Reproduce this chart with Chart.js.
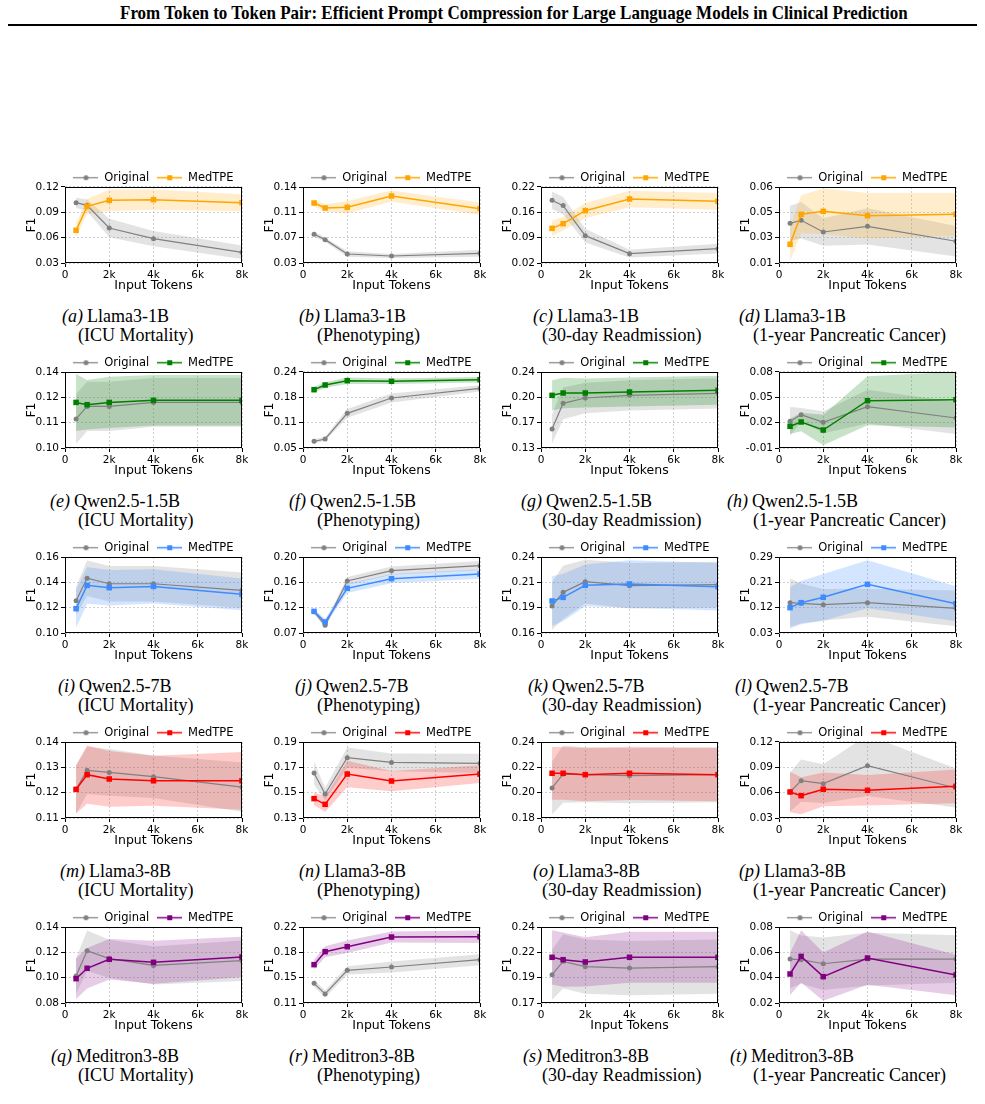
<!DOCTYPE html>
<html>
<head>
<meta charset="utf-8">
<script src="https://cdn.jsdelivr.net/npm/chart.js@4.4.1/dist/chart.umd.min.js"></script>
<style>
  body { margin: 0; background: #fff; width: 985px; height: 1104px; position: relative; overflow: hidden; font-family: "Liberation Serif", serif; }
  #title { position: absolute; top: 3px; left: 0; font-weight: bold; font-size: 19px; line-height: 20px; white-space: nowrap; transform-origin: 0 0; }
  #rule { position: absolute; left: 8px; top: 24px; width: 969px; height: 2px; background: #000; }
  canvas { position: absolute; }
  .cap { position: absolute; font-size: 18px; line-height: 19px; white-space: nowrap; }
  .cap i { padding-right: 4px; }
</style>
</head>
<body>
<div id="title">From Token to Token Pair: Efficient Prompt Compression for Large Language Models in Clinical Prediction</div>
<div id="rule"></div>
<script>
// shared axes / labels
const tokens = [500, 1000, 2000, 4000, 8000];
const xTicks = ['0', '2k', '4k', '6k', '8k'];
const models = ['Llama3-1B', 'Qwen2.5-1.5B', 'Qwen2.5-7B', 'Llama3-8B', 'Meditron3-8B'];
const tasks = ['ICU Mortality', 'Phenotyping', '30-day Readmission', '1-year Pancreatic Cancer'];
const medColors = ['#ffa500', '#008000', '#3d8bff', '#ff0000', '#800080'];
const medBands = ['rgba(255,165,0,0.2)', 'rgba(0,128,0,0.22)', 'rgba(61,139,255,0.22)', 'rgba(255,0,0,0.2)', 'rgba(128,0,128,0.2)'];

// Llama3-1B
const a_yTicks = ['0.03', '0.06', '0.09', '0.12'];
const a_orig = [0.1014, 0.0983, 0.0714, 0.0588, 0.0426], a_origErr = [0.006, 0.007, 0.011, 0.009, 0.008];
const a_med = [0.0687, 0.0971, 0.1042, 0.1050, 0.1014], a_medErr = [0.008, 0.009, 0.0125, 0.012, 0.010];
const b_yTicks = ['0.03', '0.07', '0.11', '0.14'];
const b_orig = [0.0715, 0.0638, 0.0430, 0.0401, 0.0440], b_origErr = [0.004, 0.003, 0.004, 0.003, 0.005];
const b_med = [0.1168, 0.1096, 0.1106, 0.1270, 0.1086], b_medErr = [0.005, 0.005, 0.009, 0.008, 0.009];
const c_yTicks = ['0.02', '0.09', '0.16', '0.22'];
const c_orig = [0.1850, 0.1710, 0.0920, 0.0446, 0.0577], c_origErr = [0.023, 0.023, 0.018, 0.010, 0.013];
const c_med = [0.1112, 0.1235, 0.1577, 0.1884, 0.1823], c_medErr = [0.020, 0.018, 0.020, 0.022, 0.022];
const d_yTicks = ['0.01', '0.03', '0.05', '0.06'];
const d_orig = [0.0361, 0.0381, 0.0304, 0.0341, 0.0243], d_origErr = [0.0116, 0.012, 0.009, 0.012, 0.010];
const d_med = [0.0223, 0.0420, 0.0440, 0.0411, 0.0420], d_medErr = [0.011, 0.0125, 0.015, 0.015, 0.014];
// Qwen2.5-1.5B
const e_yTicks = ['0.10', '0.11', '0.12', '0.14'];
const e_orig = [0.1153, 0.1219, 0.1219, 0.1240, 0.1240], e_origErr = [0.013, 0.013, 0.013, 0.0128, 0.0128];
const e_med = [0.1240, 0.1228, 0.1240, 0.1251, 0.1251], e_medErr = [0.015, 0.013, 0.0135, 0.0133, 0.0133];
const f_yTicks = ['0.05', '0.11', '0.18', '0.24'];
const f_orig = [0.0667, 0.0725, 0.1367, 0.1750, 0.1990], f_origErr = [0.005, 0.005, 0.011, 0.011, 0.008];
const f_med = [0.1958, 0.2075, 0.2183, 0.2167, 0.2208], f_medErr = [0.007, 0.007, 0.008, 0.007, 0.007];
const g_yTicks = ['0.13', '0.17', '0.20', '0.24'];
const g_orig = [0.1575, 0.1946, 0.2024, 0.2062, 0.2091], g_origErr = [0.021, 0.023, 0.022, 0.022, 0.022];
const g_med = [0.2062, 0.2096, 0.2096, 0.2110, 0.2135], g_medErr = [0.022, 0.022, 0.021, 0.021, 0.021];
const h_yTicks = ['-0.01', '0.02', '0.05', '0.08'];
const h_orig = [0.0216, 0.0295, 0.0204, 0.0389, 0.0255], h_origErr = [0.017, 0.008, 0.013, 0.020, 0.019];
const h_med = [0.0157, 0.0208, 0.0113, 0.0460, 0.0472], h_medErr = [0.009, 0.011, 0.018, 0.029, 0.033];
// Qwen2.5-7B
const i_yTicks = ['0.10', '0.12', '0.14', '0.16'];
const i_orig = [0.1255, 0.1432, 0.1389, 0.1389, 0.1337], i_origErr = [0.011, 0.014, 0.014, 0.014, 0.014];
const i_med = [0.1192, 0.1376, 0.1358, 0.1368, 0.1305], i_medErr = [0.015, 0.0145, 0.014, 0.0135, 0.0125];
const j_yTicks = ['0.07', '0.12', '0.16', '0.20'];
const j_orig = [0.1065, 0.0831, 0.1589, 0.1766, 0.1852], j_origErr = [0.004, 0.004, 0.007, 0.007, 0.008];
const j_med = [0.1070, 0.0888, 0.1464, 0.1629, 0.1709], j_medErr = [0.004, 0.005, 0.008, 0.008, 0.008];
const k_yTicks = ['0.16', '0.19', '0.21', '0.24'];
const k_orig = [0.1884, 0.2028, 0.2140, 0.2098, 0.2109], k_origErr = [0.025, 0.028, 0.023, 0.024, 0.024];
const k_med = [0.1937, 0.1975, 0.2102, 0.2116, 0.2088], k_medErr = [0.026, 0.025, 0.022, 0.025, 0.025];
const l_yTicks = ['0.03', '0.12', '0.21', '0.29'];
const l_orig = [0.1338, 0.1315, 0.1269, 0.1338, 0.1144], l_origErr = [0.083, 0.068, 0.054, 0.048, 0.061];
const l_med = [0.1167, 0.1338, 0.1520, 0.1965, 0.1303], l_medErr = [0.071, 0.074, 0.080, 0.082, 0.060];
// Llama3-8B
const m_yTicks = ['0.11', '0.12', '0.13', '0.14'];
const m_orig = [0.1213, 0.1288, 0.1280, 0.1263, 0.1222], m_origErr = [0.0095, 0.0093, 0.0092, 0.0084, 0.0097];
const m_med = [0.1213, 0.1271, 0.1254, 0.1247, 0.1247], m_medErr = [0.0095, 0.0115, 0.011, 0.0099, 0.0114];
const n_yTicks = ['0.13', '0.15', '0.17', '0.19'];
const n_orig = [0.1655, 0.1489, 0.1776, 0.1739, 0.1732], n_origErr = [0.009, 0.005, 0.008, 0.007, 0.0076];
const n_med = [0.1453, 0.1408, 0.1647, 0.1592, 0.1647], n_medErr = [0.005, 0.006, 0.0105, 0.008, 0.007];
const o_yTicks = ['0.18', '0.20', '0.22', '0.24'];
const o_orig = [0.2037, 0.2147, 0.2142, 0.2134, 0.2142], o_origErr = [0.021, 0.0226, 0.0217, 0.0217, 0.0217];
const o_med = [0.2153, 0.2153, 0.2142, 0.2153, 0.2142], o_medErr = [0.0208, 0.0208, 0.021, 0.021, 0.021];
const p_yTicks = ['0.03', '0.06', '0.09', '0.12'];
const p_orig = [0.0608, 0.0742, 0.0707, 0.0920, 0.0655], p_origErr = [0.023, 0.025, 0.023, 0.036, 0.023];
const p_med = [0.0608, 0.0564, 0.0640, 0.0628, 0.0675], p_medErr = [0.024, 0.022, 0.020, 0.018, 0.020];
// Meditron3-8B
const q_yTicks = ['0.08', '0.10', '0.12', '0.14'];
const q_orig = [0.1013, 0.1213, 0.1150, 0.1097, 0.1134], q_origErr = [0.014, 0.016, 0.015, 0.015, 0.016];
const q_med = [0.0992, 0.1074, 0.1145, 0.1121, 0.1163], q_medErr = [0.016, 0.016, 0.016, 0.017, 0.016];
const r_yTicks = ['0.11', '0.15', '0.18', '0.22'];
const r_orig = [0.1385, 0.1230, 0.1573, 0.1621, 0.1727], r_origErr = [0.005, 0.005, 0.006, 0.008, 0.008];
const r_med = [0.1655, 0.1843, 0.1915, 0.2055, 0.2060], r_medErr = [0.007, 0.008, 0.009, 0.008, 0.009];
const s_yTicks = ['0.17', '0.19', '0.22', '0.24'];
const s_orig = [0.1961, 0.2084, 0.2035, 0.2022, 0.2035], s_origErr = [0.023, 0.025, 0.025, 0.025, 0.025];
const s_med = [0.2121, 0.2099, 0.2078, 0.2121, 0.2121], s_medErr = [0.025, 0.025, 0.0227, 0.0235, 0.0235];
const t_yTicks = ['0.02', '0.04', '0.06', '0.08'];
const t_orig = [0.0547, 0.0542, 0.0510, 0.0547, 0.0547], t_origErr = [0.0228, 0.019, 0.0207, 0.0208, 0.0188];
const t_med = [0.0429, 0.0568, 0.0408, 0.0555, 0.0421], t_medErr = [0.0165, 0.0207, 0.019, 0.021, 0.016];

const panels = [
  [a_yTicks, a_orig, a_origErr, a_med, a_medErr], [b_yTicks, b_orig, b_origErr, b_med, b_medErr],
  [c_yTicks, c_orig, c_origErr, c_med, c_medErr], [d_yTicks, d_orig, d_origErr, d_med, d_medErr],
  [e_yTicks, e_orig, e_origErr, e_med, e_medErr], [f_yTicks, f_orig, f_origErr, f_med, f_medErr],
  [g_yTicks, g_orig, g_origErr, g_med, g_medErr], [h_yTicks, h_orig, h_origErr, h_med, h_medErr],
  [i_yTicks, i_orig, i_origErr, i_med, i_medErr], [j_yTicks, j_orig, j_origErr, j_med, j_medErr],
  [k_yTicks, k_orig, k_origErr, k_med, k_medErr], [l_yTicks, l_orig, l_origErr, l_med, l_medErr],
  [m_yTicks, m_orig, m_origErr, m_med, m_medErr], [n_yTicks, n_orig, n_origErr, n_med, n_medErr],
  [o_yTicks, o_orig, o_origErr, o_med, o_medErr], [p_yTicks, p_orig, p_origErr, p_med, p_medErr],
  [q_yTicks, q_orig, q_origErr, q_med, q_medErr], [r_yTicks, r_orig, r_origErr, r_med, r_medErr],
  [s_yTicks, s_orig, s_origErr, s_med, s_medErr], [t_yTicks, t_orig, t_origErr, t_med, t_medErr]
];

Chart.defaults.font.family = 'DejaVu Sans';
Chart.defaults.color = '#000';

// fit the title to the width it has in the paper
const title = document.getElementById('title');
const tw = title.offsetWidth;
title.style.left = '120px';
title.style.transform = 'scaleX(' + (788 / tw) + ')';

// legend handle: short line with the marker in the middle
function makeHandle(color, square) {
  const c = document.createElement('canvas');
  c.width = 25; c.height = 9;
  const g = c.getContext('2d');
  g.strokeStyle = color; g.lineWidth = square ? 1.5 : 1.2;
  g.beginPath(); g.moveTo(0, 4.5); g.lineTo(25, 4.5); g.stroke();
  g.fillStyle = color;
  if (square) g.fillRect(10, 2, 5, 5);
  else { g.beginPath(); g.arc(12.5, 4.5, 2.5, 0, Math.PI * 2); g.fill(); }
  return c;
}

// black box round the plot + fixed legend height
const framePlugin = {
  id: 'frame',
  beforeLayout(chart) {
    const lg = chart.legend;
    if (lg && !lg._patched) {
      const fit = lg.fit;
      lg.fit = function () { fit.call(this); this.height = 23; };
      lg._patched = true;
    }
  },
  afterDraw(chart) {
    const { ctx, chartArea: a } = chart;
    ctx.save();
    ctx.strokeStyle = '#000';
    ctx.lineWidth = 1;
    ctx.strokeRect(Math.round(a.left) + 0.5, Math.round(a.top) + 0.5, Math.round(a.width) - 1, Math.round(a.height) - 1);
    ctx.restore();
  }
};

const pts = arr => tokens.map((x, i) => ({ x: x, y: arr[i] }));

// where each caption line is centred, per column
const capLine1X = [115, 352, 586, 792];
const capLine2X = [135.5, 368.5, 621.5, 849.5];

panels.forEach((p, idx) => {
  const [yTicks, orig, origErr, med, medErr] = p;
  const row = Math.floor(idx / 4), col = idx % 4;
  const color = medColors[row];
  const plotLeft = 65 + 238 * col, plotTop = 187 + 185 * row;

  const cv = document.createElement('canvas');
  cv.width = 229; cv.height = 130;
  cv.style.left = (plotLeft - 42) + 'px';
  cv.style.top = (plotTop - 23) + 'px';
  document.body.appendChild(cv);

  const yMin = parseFloat(yTicks[0]), yMax = parseFloat(yTicks[yTicks.length - 1]);
  const gray = '#808080';
  const origHandle = makeHandle(gray, false), medHandle = makeHandle(color, true);

  new Chart(cv, {
    type: 'line',
    data: {
      datasets: [
        { label: 'Original', data: pts(orig), borderColor: gray, backgroundColor: gray, borderWidth: 1.2,
          pointStyle: 'circle', pointRadius: 2.5, pointBorderWidth: 0, fill: false, order: 2 },
        { label: 'MedTPE', data: pts(med), borderColor: color, backgroundColor: color, borderWidth: 1.5,
          pointStyle: 'rect', pointRadius: 3.9, pointBorderWidth: 0, fill: false, order: 1 },
        { label: 'origLo', data: pts(orig.map((v, i) => v - origErr[i])), borderWidth: 0, pointRadius: 0, fill: false, order: 6 },
        { label: 'origHi', data: pts(orig.map((v, i) => v + origErr[i])), borderWidth: 0, pointRadius: 0,
          fill: 2, backgroundColor: 'rgba(128,128,128,0.22)', order: 5 },
        { label: 'medLo', data: pts(med.map((v, i) => v - medErr[i])), borderWidth: 0, pointRadius: 0, fill: false, order: 4 },
        { label: 'medHi', data: pts(med.map((v, i) => v + medErr[i])), borderWidth: 0, pointRadius: 0,
          fill: 4, backgroundColor: medBands[row], order: 3 }
      ]
    },
    options: {
      responsive: false,
      animation: false,
      devicePixelRatio: 1,
      layout: { padding: { left: 0, top: 0, right: 10, bottom: 0 } },
      plugins: {
        tooltip: { enabled: false },
        legend: {
          position: 'top',
          fullSize: false,
          labels: {
            usePointStyle: true,
            pointStyleWidth: 25,
            padding: 8,
            font: { size: 11.5 },
            color: '#000',
            generateLabels: () => [
              { text: 'Original', pointStyle: origHandle, fillStyle: gray, strokeStyle: gray, lineWidth: 0, datasetIndex: 0, fontColor: '#000' },
              { text: 'MedTPE', pointStyle: medHandle, fillStyle: color, strokeStyle: color, lineWidth: 0, datasetIndex: 1, fontColor: '#000' }
            ]
          }
        }
      },
      scales: {
        x: {
          type: 'linear', min: 0, max: 8000,
          afterBuildTicks: s => { s.ticks = [0, 2000, 4000, 6000, 8000].map(v => ({ value: v })); },
          afterFit: s => { s.height = 31; },
          ticks: { callback: (v, i) => xTicks[i], font: { size: 10.5 }, padding: 1.5, maxRotation: 0, autoSkip: false },
          grid: { color: '#c4c4c4', lineWidth: 0.8, borderDash: [2, 2], tickLength: 4, tickColor: '#000', tickWidth: 1, tickBorderDash: [] },
          border: { display: false, dash: [2, 2] },
          title: { display: true, text: 'Input Tokens', font: { size: 12.5 }, padding: { top: 0, bottom: 1 } }
        },
        y: {
          type: 'linear', min: yMin, max: yMax,
          afterBuildTicks: s => { s.ticks = yTicks.map((t, i) => ({ value: yMin + i * (yMax - yMin) / (yTicks.length - 1) })); },
          afterFit: s => { s.width = 42; },
          ticks: { callback: (v, i) => yTicks[i], font: { size: 10.5 }, padding: 2, autoSkip: false },
          grid: { color: '#c4c4c4', lineWidth: 0.8, borderDash: [2, 2], tickLength: 4, tickColor: '#000', tickWidth: 1, tickBorderDash: [] },
          border: { display: false, dash: [2, 2] },
          title: { display: true, text: 'F1', font: { size: 12.5 }, padding: { top: 1, bottom: 0 } }
        }
      }
    },
    plugins: [framePlugin]
  });

  // sub-caption under the panel: two lines, each centred on its own
  const letter = String.fromCharCode(97 + idx);
  const lines = ['<i>(' + letter + ')</i>' + models[row], '(' + tasks[col] + ')'];
  const centers = [capLine1X[col], capLine2X[col]];
  lines.forEach((html, k) => {
    const d = document.createElement('div');
    d.className = 'cap';
    d.innerHTML = html;
    document.body.appendChild(d);
    d.style.left = Math.round(centers[k] - d.offsetWidth / 2) + 'px';
    d.style.top = (307 + 19 * k + 185 * row) + 'px';
  });
});
</script>
</body>
</html>
